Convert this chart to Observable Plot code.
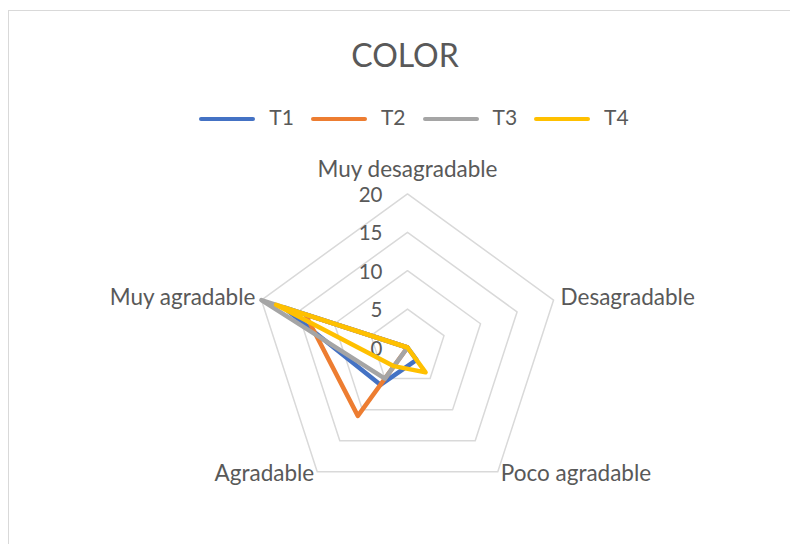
<!DOCTYPE html>
<html>
<head>
<meta charset="utf-8">
<script src="https://cdn.jsdelivr.net/npm/d3@7"></script>
<script src="https://cdn.jsdelivr.net/npm/@observablehq/plot@0.6"></script>
<style>
  html, body { margin: 0; padding: 0; background: #fff; }
  #wrap { position: relative; width: 790px; height: 544px; overflow: hidden; font-family: Lato, sans-serif; color: #595959; }
  #frame { position: absolute; left: 8px; top: 10px; width: 900px; height: 700px; border-left: 1.5px solid #d9d9d9; border-top: 1.5px solid #d9d9d9; pointer-events: none; }
  #title { height: 80px; box-sizing: border-box; padding-top: 38.5px; padding-left: 20px; line-height: 32px; font-size: 32px; text-align: center; white-space: nowrap; }
  #legend { height: 60px; box-sizing: border-box; padding-top: 25px; padding-left: 38px; display: flex; justify-content: center; line-height: 24px; font-size: 21px; }
  .item { display: flex; align-items: flex-start; margin: 0 8.5px; }
  .sw { width: 56px; height: 4.5px; border-radius: 3px; margin-top: 11.5px; margin-right: 14px; flex: none; }
  #chart svg { display: block; }
</style>
</head>
<body>
<div id="wrap">
  <div id="frame"></div>
  <div id="title">COLOR</div>
  <div id="legend"></div>
  <div id="chart"></div>
</div>
<script>
const categories = ["Muy desagradable", "Desagradable", "Poco agradable", "Agradable", "Muy agradable"];
const series = ["T1", "T2", "T3", "T4"];
const colors = ["#4472C4", "#ED7D31", "#A5A5A5", "#FFC000"];
const T1 = [0, 0, 2, 6, 17];
const T2 = [0, 0, 0, 11, 14];
const T3 = [0, 0, 0, 5, 20];
const T4 = [0, 0, 4, 3, 18];
const ticks = [0, 5, 10, 15, 20];

const values = {T1, T2, T3, T4};
const maxV = 20;
const angle = i => (2 * Math.PI * i) / categories.length;
const px = (v, i) => v * Math.sin(angle(i));
const py = (v, i) => v * Math.cos(angle(i));

// legend
const legend = document.getElementById("legend");
series.forEach((s, k) => {
  const it = document.createElement("div");
  it.className = "item";
  const sw = document.createElement("div");
  sw.className = "sw";
  sw.style.background = colors[k];
  const tx = document.createElement("span");
  tx.textContent = s;
  it.appendChild(sw); it.appendChild(tx);
  legend.appendChild(it);
});

// data rows
const rows = [];
series.forEach(s => values[s].forEach((v, i) => rows.push({series: s, category: categories[i], x: px(v, i), y: py(v, i)})));
const grid = [];
ticks.filter(t => t > 0).forEach(t => categories.forEach((c, i) => grid.push({ring: t, x: px(t, i), y: py(t, i)})));
const labels = categories.map((c, i) => ({c, i, x: px(maxV, i), y: py(maxV, i)}));

// geometry: 20 units = 153.6 px, center at (407, 207) within the svg
const W = 790, H = 404, k = 153.6 / maxV, cx = 407, cy = 207;

const chart = Plot.plot({
  width: W,
  height: H,
  margin: 0,
  x: {domain: [-cx / k, (W - cx) / k], axis: null},
  y: {domain: [-(H - cy) / k, cy / k], axis: null},
  color: {domain: series, range: colors},
  style: {fontFamily: "Lato, sans-serif", fontSize: "22px", color: "#595959", overflow: "visible", background: "transparent"},
  marks: [
    Plot.line(grid, {x: "x", y: "y", z: "ring", stroke: "#d9d9d9", strokeWidth: 1.5, curve: "linear-closed"}),
    Plot.text(ticks, {x: 0, y: d => d, text: d => String(d), textAnchor: "end", dx: -25, dy: 1.5, fill: "#595959", fontSize: 20.5}),
    Plot.line(rows, {x: "x", y: "y", z: "series", stroke: "series", strokeWidth: 4.5, strokeLinejoin: "round", strokeLinecap: "round", curve: "linear-closed"}),
    Plot.text(labels.filter(d => d.i === 0), {x: "x", y: "y", text: "c", textAnchor: "middle", dy: -24, fill: "#595959", fontSize: 22.5}),
    Plot.text(labels.filter(d => d.i === 1), {x: "x", y: "y", text: "c", textAnchor: "start", dx: 7, dy: -2, fill: "#595959", fontSize: 22.5}),
    Plot.text(labels.filter(d => d.i === 2), {x: "x", y: "y", text: "c", textAnchor: "start", dx: 3, dy: 2, fill: "#595959", fontSize: 22.5}),
    Plot.text(labels.filter(d => d.i === 3), {x: "x", y: "y", text: "c", textAnchor: "end", dx: -3, dy: 2, fill: "#595959", fontSize: 22.5}),
    Plot.text(labels.filter(d => d.i === 4), {x: "x", y: "y", text: "c", textAnchor: "end", dx: -6, dy: -2, fill: "#595959", fontSize: 22.5})
  ]
});
document.getElementById("chart").appendChild(chart);
</script>
</body>
</html>
